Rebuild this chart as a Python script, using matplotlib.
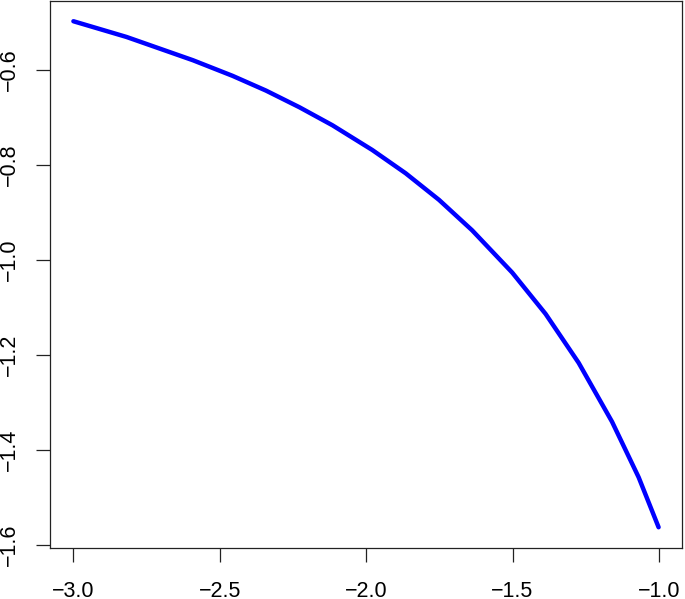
import matplotlib.pyplot as plt

# curve values
x_vals = [-3.0, -2.819, -2.592, -2.456, -2.342, -2.228, -2.115, -1.979,
          -1.865, -1.751, -1.638, -1.501, -1.387, -1.274, -1.160, -1.069, -1.001]
y_vals = [-0.498, -0.531, -0.580, -0.613, -0.644, -0.679, -0.717, -0.769,
          -0.818, -0.874, -0.938, -1.027, -1.114, -1.217, -1.341, -1.458, -1.563]

x_ticks = [-3.0, -2.5, -2.0, -1.5, -1.0]
y_ticks = [-0.6, -0.8, -1.0, -1.2, -1.4, -1.6]

plt.rcParams['font.family'] = ['Liberation Sans', 'DejaVu Sans']

fig = plt.figure(figsize=(6.85, 5.99), dpi=100)
ax = fig.add_axes([50 / 685, (599 - 547.5) / 599, 632 / 685, 546.5 / 599])

ax.plot(x_vals, y_vals, color='#0000ff', linewidth=3.2,
        solid_capstyle='round', solid_joinstyle='round')

# R style 4% padding
xr = max(x_vals) - min(x_vals)
yr = max(y_vals) - min(y_vals)
ax.set_xlim(min(x_vals) - 0.04 * xr, max(x_vals) + 0.04 * xr)
ax.set_ylim(min(y_vals) - 0.04 * yr, max(y_vals) + 0.04 * yr)

ax.set_xticks(x_ticks)
ax.set_xticklabels(['\u2212%.1f' % abs(v) for v in x_ticks])
ax.set_yticks(y_ticks)
ax.set_yticklabels(['\u2212%.1f' % abs(v) for v in y_ticks], rotation=90, va='center')

ax.tick_params(axis='both', length=10, width=0.9, color='#222222', labelsize=15.5)
ax.tick_params(axis='x', pad=14)
ax.tick_params(axis='y', pad=12)

for s in ax.spines.values():
    s.set_linewidth(0.9)
    s.set_color('#222222')

fig.savefig('out.png', dpi=100)
